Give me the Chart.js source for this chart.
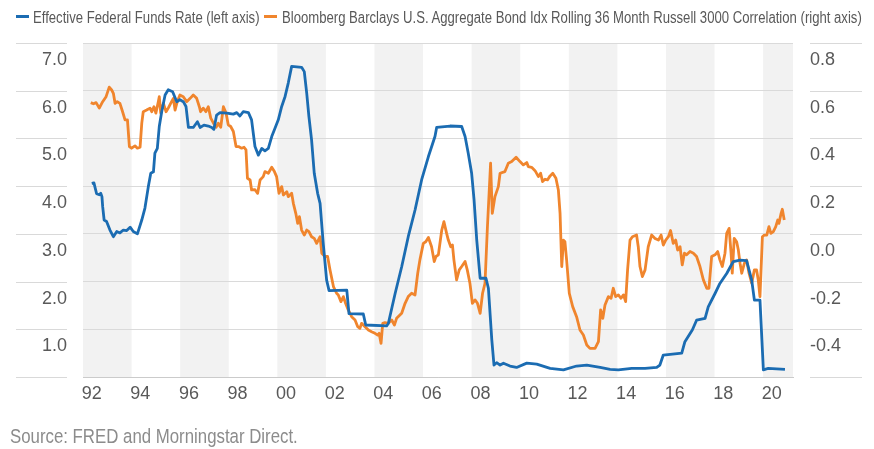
<!DOCTYPE html>
<html>
<head>
<meta charset="utf-8">
<title>Fed Funds Rate vs Bond/Stock Correlation</title>
<script src="https://cdn.jsdelivr.net/npm/chart.js@4.4.0/dist/chart.umd.min.js"></script>
<style>
  html, body { margin: 0; padding: 0; background: #fff; }
  #wrap { position: relative; width: 874px; height: 449px; overflow: hidden;
          font-family: 'Liberation Sans', Arial, sans-serif; }
  #chart { position: absolute; left: 0; top: 0; }
  .mark { position: absolute; top: 15px; width: 13px; height: 3px; }
  /* narrow look of the original type */
  .narrow { position: absolute; white-space: nowrap; transform: scaleX(0.82); transform-origin: 0 0; }
  .leg { top: 7px; font-size: 16px; line-height: 22px; color: #595959; }
  #source { left: 10px; top: 424px; font-size: 20.5px; line-height: 24px; color: #8c8c8c; }
</style>
</head>
<body>
<div id="wrap">
  <canvas id="chart" width="874" height="449"></canvas>
  <span class="mark" style="left:16px; background:#1b6cb2"></span>
  <span class="narrow leg" style="left:33px">Effective Federal Funds Rate (left axis)</span>
  <span class="mark" style="left:264px; background:#f0852d"></span>
  <span class="narrow leg" style="left:282px">Bloomberg Barclays U.S. Aggregate Bond Idx Rolling 36 Month Russell 3000 Correlation (right axis)</span>
  <div id="source" class="narrow">Source: FRED and Morningstar Direct.</div>
</div>
<script>
// x = year on the chart's axis
const tickYears = [1992, 1994, 1996, 1998, 2000, 2002, 2004, 2006, 2008, 2010, 2012, 2014, 2016, 2018, 2020];
const shadedYears = [1992, 1996, 2000, 2004, 2008, 2012, 2016, 2020];

// Effective Federal Funds Rate, % (left axis)
const fedFunds = [
  [1992.36,4.06],[1992.45,4.07],[1992.56,3.84],[1992.67,3.82],[1992.73,3.85],[1992.78,3.78],[1992.81,3.57],
  [1992.87,3.29],[1992.97,3.26],[1993.11,3.08],[1993.25,2.94],[1993.39,3.05],[1993.52,3.02],[1993.66,3.08],
  [1993.8,3.07],[1993.94,3.14],[1994.07,3.05],[1994.24,3.0],[1994.42,3.29],[1994.55,3.54],[1994.69,3.99],
  [1994.79,4.27],[1994.9,4.3],[1994.96,4.69],[1995.06,4.79],[1995.14,5.25],[1995.24,5.56],[1995.38,5.91],
  [1995.51,6.02],[1995.69,5.98],[1995.86,5.77],[1995.99,5.81],[1996.13,5.77],[1996.24,5.67],[1996.34,5.23],
  [1996.54,5.23],[1996.71,5.35],[1996.82,5.23],[1996.98,5.28],[1997.16,5.26],[1997.3,5.23],[1997.39,5.19],
  [1997.5,5.49],[1997.64,5.54],[1997.92,5.53],[1998.19,5.51],[1998.33,5.54],[1998.46,5.47],[1998.6,5.56],
  [1998.81,5.54],[1998.94,5.39],[1999.08,4.83],[1999.22,4.65],[1999.36,4.79],[1999.49,4.74],[1999.63,4.79],
  [1999.77,5.04],[1999.9,5.21],[2000.04,5.39],[2000.18,5.67],[2000.32,5.88],[2000.45,6.16],[2000.59,6.51],
  [2000.8,6.5],[2001.0,6.49],[2001.11,6.4],[2001.21,5.95],[2001.3,5.46],[2001.41,4.97],[2001.52,4.27],
  [2001.66,3.85],[2001.76,3.64],[2001.89,2.8],[2002.03,2.03],[2002.13,1.81],[2002.86,1.82],[2002.95,1.33],
  [2003.54,1.32],[2003.64,1.09],[2004.5,1.07],[2004.57,1.12],[2004.85,1.75],[2005.12,2.31],[2005.39,2.94],
  [2005.67,3.5],[2005.94,4.13],[2006.22,4.62],[2006.49,5.04],[2006.56,5.23],[2007.11,5.26],[2007.59,5.25],
  [2007.73,5.04],[2007.86,4.69],[2008.0,4.27],[2008.1,3.71],[2008.21,2.87],[2008.35,2.07],[2008.59,2.07],
  [2008.69,1.86],[2008.83,0.78],[2008.92,0.25],[2009.03,0.3],[2009.17,0.25],[2009.31,0.29],[2009.58,0.23],
  [2009.85,0.2],[2010.27,0.29],[2010.68,0.27],[2011.23,0.18],[2011.78,0.15],[2012.32,0.23],[2012.74,0.25],
  [2013.29,0.2],[2013.7,0.16],[2014.04,0.15],[2014.59,0.18],[2015.14,0.18],[2015.62,0.2],[2015.75,0.25],
  [2015.89,0.46],[2016.65,0.5],[2016.78,0.74],[2017.09,0.99],[2017.26,1.19],[2017.61,1.23],[2017.74,1.47],
  [2018.02,1.75],[2018.22,1.96],[2018.5,2.17],[2018.77,2.42],[2019.05,2.45],[2019.32,2.44],[2019.53,2.03],
  [2019.64,1.61],[2019.87,1.61],[2020.01,0.15],[2020.21,0.18],[2020.9,0.16]
];

// Agg Bond vs Russell 3000, rolling 36 month correlation (right axis)
const bondStockCorr = [
  [1992.32,0.55],[1992.43,0.545],[1992.54,0.55],[1992.67,0.527],[1992.81,0.554],[1992.95,0.575],[1993.08,0.615],
  [1993.18,0.603],[1993.25,0.589],[1993.32,0.547],[1993.41,0.554],[1993.52,0.547],[1993.63,0.512],[1993.73,0.478],
  [1993.83,0.478],[1993.91,0.366],[1994.0,0.359],[1994.14,0.369],[1994.24,0.359],[1994.35,0.363],[1994.42,0.464],
  [1994.48,0.512],[1994.62,0.519],[1994.76,0.527],[1994.83,0.512],[1994.92,0.533],[1995.0,0.506],[1995.1,0.554],
  [1995.14,0.575],[1995.2,0.506],[1995.31,0.547],[1995.42,0.512],[1995.51,0.527],[1995.61,0.547],[1995.72,0.568],
  [1995.79,0.519],[1995.88,0.554],[1995.99,0.582],[1996.13,0.575],[1996.27,0.554],[1996.41,0.568],[1996.54,0.582],
  [1996.68,0.568],[1996.79,0.533],[1996.84,0.512],[1996.95,0.527],[1997.06,0.512],[1997.16,0.533],[1997.26,0.485],
  [1997.37,0.464],[1997.48,0.447],[1997.57,0.464],[1997.67,0.447],[1997.78,0.533],[1997.89,0.506],[1997.98,0.457],
  [1998.08,0.45],[1998.19,0.429],[1998.3,0.366],[1998.4,0.366],[1998.53,0.359],[1998.63,0.363],[1998.71,0.352],
  [1998.77,0.233],[1998.88,0.226],[1998.94,0.184],[1999.08,0.185],[1999.19,0.17],[1999.29,0.226],[1999.42,0.24],
  [1999.49,0.261],[1999.63,0.254],[1999.77,0.279],[1999.88,0.261],[1999.97,0.24],[2000.07,0.17],[2000.18,0.198],
  [2000.25,0.163],[2000.39,0.177],[2000.45,0.156],[2000.59,0.17],[2000.66,0.128],[2000.76,0.086],[2000.84,0.044],
  [2000.91,0.072],[2001.0,0.016],[2001.11,-0.005],[2001.21,0.016],[2001.3,0.009],[2001.41,-0.012],[2001.52,-0.019],
  [2001.62,-0.04],[2001.76,-0.012],[2001.83,-0.081],[2001.96,-0.095],[2002.07,-0.095],[2002.17,-0.151],[2002.31,-0.221],
  [2002.44,-0.249],[2002.51,-0.256],[2002.62,-0.284],[2002.72,-0.263],[2002.81,-0.291],[2002.92,-0.319],[2003.06,-0.347],
  [2003.2,-0.361],[2003.31,-0.389],[2003.4,-0.396],[2003.47,-0.375],[2003.61,-0.389],[2003.75,-0.403],[2003.88,-0.41],
  [2004.02,-0.417],[2004.13,-0.424],[2004.19,-0.417],[2004.27,-0.459],[2004.34,-0.375],[2004.43,-0.372],[2004.57,-0.375],
  [2004.71,-0.361],[2004.82,-0.382],[2004.91,-0.354],[2005.12,-0.333],[2005.26,-0.291],[2005.39,-0.263],[2005.53,-0.249],
  [2005.67,-0.256],[2005.78,-0.165],[2005.87,-0.109],[2006.01,-0.04],[2006.11,-0.033],[2006.22,-0.015],[2006.35,-0.054],
  [2006.46,-0.116],[2006.53,-0.095],[2006.63,-0.088],[2006.77,0.016],[2006.86,0.051],[2006.97,0.002],[2007.04,-0.026],
  [2007.14,-0.054],[2007.21,-0.047],[2007.27,-0.109],[2007.38,-0.193],[2007.49,-0.151],[2007.59,-0.137],[2007.73,-0.116],
  [2007.82,-0.151],[2007.93,-0.207],[2008.03,-0.291],[2008.14,-0.277],[2008.24,-0.291],[2008.35,-0.333],[2008.45,-0.249],
  [2008.55,-0.207],[2008.65,0.03],[2008.78,0.296],[2008.85,0.086],[2008.96,0.156],[2009.1,0.198],[2009.17,0.254],
  [2009.37,0.261],[2009.51,0.296],[2009.65,0.303],[2009.83,0.321],[2009.99,0.303],[2010.13,0.289],[2010.27,0.299],
  [2010.33,0.282],[2010.47,0.279],[2010.61,0.265],[2010.75,0.24],[2010.84,0.254],[2010.92,0.219],[2011.02,0.229],
  [2011.12,0.226],[2011.23,0.243],[2011.34,0.254],[2011.47,0.233],[2011.57,0.184],[2011.64,0.086],[2011.71,-0.137],
  [2011.78,-0.026],[2011.84,-0.033],[2011.91,-0.109],[2012.02,-0.249],[2012.16,-0.305],[2012.32,-0.347],[2012.46,-0.403],
  [2012.6,-0.424],[2012.74,-0.466],[2012.87,-0.48],[2013.08,-0.48],[2013.22,-0.452],[2013.31,-0.319],[2013.4,-0.354],
  [2013.49,-0.298],[2013.63,-0.263],[2013.74,-0.27],[2013.83,-0.228],[2013.93,-0.263],[2014.04,-0.256],[2014.15,-0.27],
  [2014.25,-0.256],[2014.34,-0.284],[2014.42,-0.151],[2014.52,-0.026],[2014.62,-0.012],[2014.79,-0.005],[2014.86,-0.054],
  [2014.93,-0.137],[2015.03,-0.179],[2015.14,-0.151],[2015.27,-0.054],[2015.41,-0.005],[2015.55,-0.019],[2015.69,-0.026],
  [2015.8,-0.005],[2015.89,-0.047],[2015.99,-0.026],[2016.1,-0.012],[2016.19,0.014],[2016.3,-0.04],[2016.4,-0.026],
  [2016.48,-0.068],[2016.58,-0.054],[2016.67,-0.13],[2016.76,-0.081],[2016.85,-0.088],[2016.99,-0.074],[2017.13,-0.081],
  [2017.26,-0.095],[2017.4,-0.137],[2017.54,-0.193],[2017.68,-0.228],[2017.77,-0.228],[2017.88,-0.095],[2018.02,-0.088],
  [2018.13,-0.074],[2018.22,-0.109],[2018.32,-0.137],[2018.43,-0.081],[2018.5,0.002],[2018.6,0.023],[2018.68,-0.081],
  [2018.73,-0.165],[2018.81,-0.019],[2018.91,-0.033],[2018.98,-0.068],[2019.05,-0.123],[2019.12,-0.165],[2019.23,-0.123],
  [2019.32,-0.109],[2019.42,-0.165],[2019.53,-0.207],[2019.64,-0.151],[2019.73,-0.151],[2019.8,-0.193],[2019.87,-0.263],
  [2019.97,-0.012],[2020.05,-0.005],[2020.15,-0.005],[2020.24,0.03],[2020.32,0.002],[2020.42,0.009],[2020.52,0.03],
  [2020.6,0.058],[2020.65,0.044],[2020.74,0.086],[2020.79,0.103],[2020.87,0.058]
];

const FONT = "'Liberation Sans', Arial, sans-serif";
const LABEL_SHIFT = 0.36;   // year labels sit a little right of the band start
const fmt1 = v => { const r = Math.round(v * 10) / 10; return (Math.abs(r) < 1e-9 ? 0 : r).toFixed(1); };

// grey bands every other 2 years + gridline stubs beside the plot
const backdrop = {
    id: 'backdrop',
    beforeDraw(chart) {
        const { ctx, chartArea: a, scales: { x, y } } = chart;
        ctx.save();
        ctx.fillStyle = '#f2f2f2';
        shadedYears.forEach(s => {
            const x0 = Math.max(x.getPixelForValue(s), a.left);
            const x1 = Math.min(x.getPixelForValue(s + 2), a.right);
            if (x1 > x0) ctx.fillRect(x0, a.top, x1 - x0, a.bottom - a.top);
        });
        ctx.strokeStyle = '#d9d9d9';
        ctx.lineWidth = 1;
        y.ticks.forEach(t => {
            const py = Math.round(y.getPixelForValue(t.value)) + 0.5;
            ctx.beginPath();
            ctx.moveTo(16, py); ctx.lineTo(a.left - 16, py);
            ctx.moveTo(a.right + 17, py); ctx.lineTo(a.right + 69, py);
            ctx.stroke();
        });
        ctx.restore();
    }
};

new Chart(document.getElementById('chart'), {
    type: 'line',
    data: {
        datasets: [
            { label: 'Effective Federal Funds Rate (left axis)', yAxisID: 'y', order: 0,
              data: fedFunds.map(p => ({ x: p[0], y: p[1] })),
              borderColor: '#1b6cb2', borderWidth: 2.8, pointRadius: 0, tension: 0, borderJoinStyle: 'round' },
            { label: 'Bloomberg Barclays U.S. Aggregate Bond Idx Rolling 36 Month Russell 3000 Correlation (right axis)',
              yAxisID: 'y2', order: 1,
              data: bondStockCorr.map(p => ({ x: p[0], y: p[1] })),
              borderColor: '#f0852d', borderWidth: 2.8, pointRadius: 0, tension: 0, borderJoinStyle: 'round' }
        ]
    },
    options: {
        responsive: false,
        animation: false,
        layout: { padding: { top: 43, left: 0, right: 0, bottom: 0 } },
        plugins: { legend: { display: false }, tooltip: { enabled: false } },
        scales: {
            x: {
                type: 'linear', min: 1992, max: 2021.23,
                grid: { display: false, drawTicks: false },
                border: { display: true, color: '#cbcbcb' },
                afterBuildTicks: s => { s.ticks = tickYears.map(v => ({ value: v + LABEL_SHIFT })); },
                afterFit: s => { s.height = 72; },
                ticks: {
                    autoSkip: false, maxRotation: 0, padding: 6, color: '#595959',
                    font: { family: FONT, size: 18 },
                    callback: v => String(Math.floor(v) % 100).padStart(2, '0')
                }
            },
            y: {
                position: 'left', min: 0, max: 7,
                afterFit: s => { s.width = 83; },
                grid: { color: '#dadada', drawTicks: false },
                border: { display: false },
                ticks: {
                    stepSize: 1, padding: 16, labelOffset: 17, color: '#595959',
                    font: { family: FONT, size: 18 },
                    callback: v => v === 0 ? '' : fmt1(v)
                }
            },
            y2: {
                position: 'right', min: -0.6, max: 0.8,
                afterFit: s => { s.width = 81; },
                grid: { display: false, drawTicks: false },
                border: { display: false },
                ticks: {
                    stepSize: 0.2, padding: 17, labelOffset: 17, color: '#595959',
                    font: { family: FONT, size: 18 },
                    callback: v => Math.abs(v + 0.6) < 1e-6 ? '' : fmt1(v)
                }
            }
        }
    },
    plugins: [backdrop]
});
</script>
</body>
</html>
